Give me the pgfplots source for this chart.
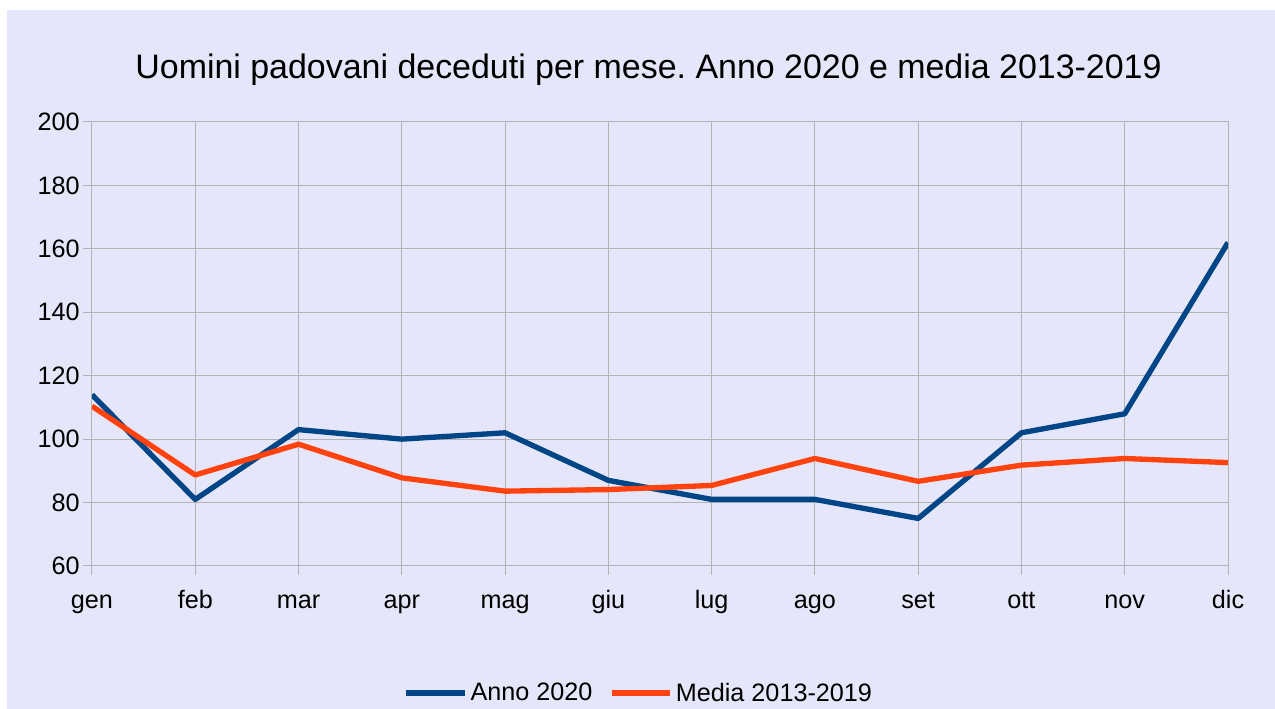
\documentclass[border=0pt]{standalone}
\usepackage{pgfplots}
\pgfplotsset{compat=1.18}
\usepackage{fontspec}
\setmainfont{Liberation Sans}
\frenchspacing
\definecolor{bgc}{RGB}{230,230,250}
\definecolor{gridc}{RGB}{179,179,179}
\definecolor{blueA}{RGB}{0,69,134}
\definecolor{orangeM}{RGB}{255,66,14}
\begin{document}
\begin{tikzpicture}
\useasboundingbox (-69pt,-107.25pt) rectangle (887.25pt,424.5pt);
\fill[white] (-69pt,-107.25pt) rectangle (887.25pt,424.5pt);
\fill[bgc] (-63.75pt,-107.25pt) rectangle (887.25pt,417pt);
\node[anchor=base,font=\fontsize{25.45pt}{30pt}\selectfont] at (417.4pt,365.25pt) {Uomini padovani deceduti per mese. Anno 2020 e media 2013-2019};
\begin{axis}[
  at={(0pt,0pt)}, anchor=south west,
  scale only axis, width=852pt, height=333pt,
  xmin=0, xmax=11, ymin=60, ymax=200,
  xtick={0,...,11},
  xticklabels={gen,feb,mar,apr,mag,giu,lug,ago,set,ott,nov,dic},
  ytick={60,80,...,200},
  grid=major,
  major grid style={gridc, line width=0.75pt},
  axis line style={gridc, line width=0.75pt},
  xtick style={draw=gridc, line width=0.75pt},
  ytick style={draw=gridc, line width=0.75pt},
  xtick align=outside, ytick align=outside,
  major tick length=6.75pt,
  xtick pos=bottom, ytick pos=left,
  /pgf/number format/assume math mode=true,
  ticklabel style={font=\fontsize{18.9pt}{22pt}\selectfont, text=black, inner sep=0pt},
  xticklabel style={anchor=base, yshift=-25.5pt},
  yticklabel style={anchor=east, xshift=-2.25pt},
  legend columns=2,
  legend style={at={(410.25pt,-95.25pt)}, anchor=center, draw=none, fill=none,
    font=\fontsize{18.9pt}{22pt}\selectfont,
    /tikz/every even column/.append style={column sep=10pt}},
  legend image code/.code={\draw[#1, line width=4.5pt] (0pt,0pt) -- (44pt,0pt);},
]
\addplot[blueA, line width=4pt, line join=round] coordinates {
(0,114) (1,81) (2,103) (3,100) (4,102) (5,87) (6,81) (7,81) (8,75) (9,102) (10,108) (11,162)};
\addlegendentry{Anno 2020}
\addplot[orangeM, line width=4pt, line join=round] coordinates {
(0,110.4) (1,88.7) (2,98.4) (3,87.8) (4,83.6) (5,84.1) (6,85.4) (7,93.9) (8,86.7) (9,91.8) (10,93.9) (11,92.6)};
\addlegendentry{Media 2013-2019}
\end{axis}
\end{tikzpicture}
\end{document}
